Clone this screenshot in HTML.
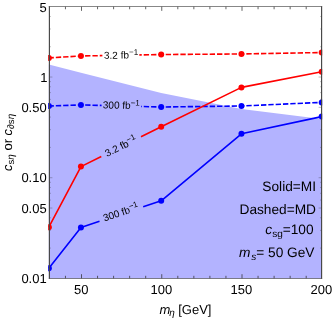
<!DOCTYPE html>
<html><head><meta charset="utf-8">
<style>
html,body{margin:0;padding:0;background:#fff;}
body{width:332px;height:318px;overflow:hidden;}
svg{display:block;will-change:transform;}
text{font-family:"Liberation Sans",sans-serif;fill:#000;text-rendering:geometricPrecision;}
.i{font-style:italic;}
</style></head><body>
<svg width="332" height="318" viewBox="0 0 332 318">
<defs><clipPath id="cp"><rect x="48.15" y="6.15" width="274.05" height="272.75"/></clipPath>
<clipPath id="cr"><rect x="48.15" y="0" width="54.25" height="318"/><rect x="139.3" y="0" width="182.9" height="318"/></clipPath>
<clipPath id="cb"><rect x="48.15" y="0" width="53.45" height="318"/><rect x="141" y="0" width="181.2" height="318"/></clipPath></defs>
<rect width="332" height="318" fill="#fff"/>
<path d="M48.85,64.5 L80.95,72.7 L161.2,93.1 L241.45,109 L321.7,119.1 L321.7,278.4 L48.85,278.4 Z" fill="#b3b3ff"/>
<g stroke="#303030" stroke-width="0.75" fill="none">
<line x1="65.45" y1="6.65" x2="65.45" y2="9.25"/>
<line x1="65.45" y1="278.4" x2="65.45" y2="275.8"/>
<line x1="81.5" y1="6.65" x2="81.5" y2="10.85"/>
<line x1="81.5" y1="278.4" x2="81.5" y2="274.2"/>
<line x1="97.55" y1="6.65" x2="97.55" y2="9.25"/>
<line x1="97.55" y1="278.4" x2="97.55" y2="275.8"/>
<line x1="113.6" y1="6.65" x2="113.6" y2="9.25"/>
<line x1="113.6" y1="278.4" x2="113.6" y2="275.8"/>
<line x1="129.65" y1="6.65" x2="129.65" y2="9.25"/>
<line x1="129.65" y1="278.4" x2="129.65" y2="275.8"/>
<line x1="145.7" y1="6.65" x2="145.7" y2="9.25"/>
<line x1="145.7" y1="278.4" x2="145.7" y2="275.8"/>
<line x1="161.75" y1="6.65" x2="161.75" y2="10.85"/>
<line x1="161.75" y1="278.4" x2="161.75" y2="274.2"/>
<line x1="177.8" y1="6.65" x2="177.8" y2="9.25"/>
<line x1="177.8" y1="278.4" x2="177.8" y2="275.8"/>
<line x1="193.85" y1="6.65" x2="193.85" y2="9.25"/>
<line x1="193.85" y1="278.4" x2="193.85" y2="275.8"/>
<line x1="209.9" y1="6.65" x2="209.9" y2="9.25"/>
<line x1="209.9" y1="278.4" x2="209.9" y2="275.8"/>
<line x1="225.95" y1="6.65" x2="225.95" y2="9.25"/>
<line x1="225.95" y1="278.4" x2="225.95" y2="275.8"/>
<line x1="242" y1="6.65" x2="242" y2="10.85"/>
<line x1="242" y1="278.4" x2="242" y2="274.2"/>
<line x1="258.05" y1="6.65" x2="258.05" y2="9.25"/>
<line x1="258.05" y1="278.4" x2="258.05" y2="275.8"/>
<line x1="274.1" y1="6.65" x2="274.1" y2="9.25"/>
<line x1="274.1" y1="278.4" x2="274.1" y2="275.8"/>
<line x1="290.15" y1="6.65" x2="290.15" y2="9.25"/>
<line x1="290.15" y1="278.4" x2="290.15" y2="275.8"/>
<line x1="306.2" y1="6.65" x2="306.2" y2="9.25"/>
<line x1="306.2" y1="278.4" x2="306.2" y2="275.8"/>
</g>
<g stroke="#303030" stroke-width="0.45" fill="none" opacity="0.7">
<line x1="49.4" y1="248.09" x2="50.9" y2="248.09"/>
<line x1="321.6" y1="248.09" x2="320.1" y2="248.09"/>
<line x1="49.4" y1="230.36" x2="50.9" y2="230.36"/>
<line x1="321.6" y1="230.36" x2="320.1" y2="230.36"/>
<line x1="49.4" y1="217.78" x2="50.9" y2="217.78"/>
<line x1="321.6" y1="217.78" x2="320.1" y2="217.78"/>
<line x1="49.4" y1="208.02" x2="52.4" y2="208.02"/>
<line x1="321.6" y1="208.02" x2="318.6" y2="208.02"/>
<line x1="49.4" y1="200.05" x2="50.9" y2="200.05"/>
<line x1="321.6" y1="200.05" x2="320.1" y2="200.05"/>
<line x1="49.4" y1="193.31" x2="50.9" y2="193.31"/>
<line x1="321.6" y1="193.31" x2="320.1" y2="193.31"/>
<line x1="49.4" y1="187.47" x2="50.9" y2="187.47"/>
<line x1="321.6" y1="187.47" x2="320.1" y2="187.47"/>
<line x1="49.4" y1="182.32" x2="50.9" y2="182.32"/>
<line x1="321.6" y1="182.32" x2="320.1" y2="182.32"/>
<line x1="49.4" y1="177.71" x2="52.4" y2="177.71"/>
<line x1="321.6" y1="177.71" x2="318.6" y2="177.71"/>
<line x1="49.4" y1="147.4" x2="50.9" y2="147.4"/>
<line x1="321.6" y1="147.4" x2="320.1" y2="147.4"/>
<line x1="49.4" y1="129.67" x2="50.9" y2="129.67"/>
<line x1="321.6" y1="129.67" x2="320.1" y2="129.67"/>
<line x1="49.4" y1="117.09" x2="50.9" y2="117.09"/>
<line x1="321.6" y1="117.09" x2="320.1" y2="117.09"/>
<line x1="49.4" y1="107.34" x2="52.4" y2="107.34"/>
<line x1="321.6" y1="107.34" x2="318.6" y2="107.34"/>
<line x1="49.4" y1="99.36" x2="50.9" y2="99.36"/>
<line x1="321.6" y1="99.36" x2="320.1" y2="99.36"/>
<line x1="49.4" y1="92.62" x2="50.9" y2="92.62"/>
<line x1="321.6" y1="92.62" x2="320.1" y2="92.62"/>
<line x1="49.4" y1="86.78" x2="50.9" y2="86.78"/>
<line x1="321.6" y1="86.78" x2="320.1" y2="86.78"/>
<line x1="49.4" y1="81.63" x2="50.9" y2="81.63"/>
<line x1="321.6" y1="81.63" x2="320.1" y2="81.63"/>
<line x1="49.4" y1="77.03" x2="52.4" y2="77.03"/>
<line x1="321.6" y1="77.03" x2="318.6" y2="77.03"/>
<line x1="49.4" y1="46.72" x2="50.9" y2="46.72"/>
<line x1="321.6" y1="46.72" x2="320.1" y2="46.72"/>
<line x1="49.4" y1="28.99" x2="50.9" y2="28.99"/>
<line x1="321.6" y1="28.99" x2="320.1" y2="28.99"/>
<line x1="49.4" y1="16.41" x2="50.9" y2="16.41"/>
<line x1="321.6" y1="16.41" x2="320.1" y2="16.41"/>
</g>
<g clip-path="url(#cp)">
<g fill="none" stroke-width="1.6" stroke-linejoin="round">
<path d="M48.85,57.9 L80.95,56 L161.2,54.5 L241.45,54 L321.7,52.5" stroke="#f00" stroke-dasharray="5.35 1.98" stroke-dashoffset="0.35" clip-path="url(#cr)"/>
<path d="M48.85,106 L80.95,104.9 L161.2,107 L241.45,106 L321.7,102.4" stroke="#00f" stroke-dasharray="5.35 1.98" stroke-dashoffset="0.35" clip-path="url(#cb)"/>
<path d="M48.85,227.2 L80.95,166.6 L101.3,156.51 M141,136.82 L161.2,126.8 L241.45,87.4 L321.7,71.7" stroke="#f00"/>
<path d="M48.85,268.2 L80.95,227.5 L99.5,221.33 M143.2,206.79 L161.2,200.8 L241.45,133.8 L321.7,116.6" stroke="#00f"/>
</g>
<g fill="#f00"><circle cx="48.85" cy="57.9" r="3"/><circle cx="80.95" cy="56" r="3"/><circle cx="161.2" cy="54.5" r="3"/><circle cx="241.45" cy="54" r="3"/><circle cx="321.7" cy="52.5" r="3"/></g><g fill="#f00"><circle cx="48.85" cy="227.2" r="3"/><circle cx="80.95" cy="166.6" r="3"/><circle cx="161.2" cy="126.8" r="3"/><circle cx="241.45" cy="87.4" r="3"/><circle cx="321.7" cy="71.7" r="3"/></g><g fill="#00f"><circle cx="48.85" cy="106" r="3"/><circle cx="80.95" cy="104.9" r="3"/><circle cx="161.2" cy="107" r="3"/><circle cx="241.45" cy="106" r="3"/><circle cx="321.7" cy="102.4" r="3"/></g><g fill="#00f"><circle cx="48.85" cy="268.2" r="3"/><circle cx="80.95" cy="227.5" r="3"/><circle cx="161.2" cy="200.8" r="3"/><circle cx="241.45" cy="133.8" r="3"/><circle cx="321.7" cy="116.6" r="3"/></g>
</g>
<g stroke="#454545" stroke-width="1.15" fill="none">
<line x1="49.4" y1="6.2" x2="49.4" y2="278.85"/>
<line x1="321.6" y1="6.2" x2="321.6" y2="278.85"/>
<line x1="48.85" y1="6.5" x2="322.15" y2="6.5" stroke-width="0.65"/>
<line x1="48.85" y1="278.5" x2="322.15" y2="278.5" stroke-width="0.65"/>
</g>
<g id="alltext">
<g font-size="13" text-anchor="end">
<text x="46.7" y="11.65">5</text>
<text x="47.5" y="81.53">1</text>
<text x="46.7" y="111.84">0.50</text>
<text x="46.7" y="182.21">0.10</text>
<text x="46.7" y="212.52">0.05</text>
<text x="46.7" y="282.9">0.01</text>
</g>
<g font-size="13" text-anchor="middle">
<text x="81.3" y="293.7">50</text>
<text x="161.3" y="293.7">100</text>
<text x="241.3" y="293.7">150</text>
<text x="321.4" y="293.7">200</text>
</g>
<text y="314.2" font-size="13"><tspan class="i" x="159.6">m</tspan><tspan class="i" font-size="10" x="169.2" dy="1.6">η</tspan><tspan x="178.2" dy="-1.6">[GeV]</tspan></text>
<text transform="translate(11.6,171) rotate(-90)" font-size="13"><tspan class="i">c</tspan><tspan font-size="9.5" dy="2.5">s<tspan class="i" font-size="10">η</tspan></tspan><tspan dy="-2.5"> or </tspan><tspan class="i">c</tspan><tspan font-size="9.5" dy="2.5"><tspan class="i">∂</tspan>s<tspan class="i" font-size="10" dx="0.3">η</tspan></tspan></text>
<text transform="translate(104,58.8) rotate(-0.9)" font-size="10">3.2 fb<tspan font-size="8" dy="-3.6">−1</tspan></text>
<text transform="translate(102.8,108.3) rotate(1.4)" font-size="10">300 fb<tspan font-size="8" dy="-3.6">−1</tspan></text>
<text transform="translate(120.7,146.3) rotate(-26.3)" font-size="10" text-anchor="middle"><tspan dy="3.5">3.2 fb</tspan><tspan font-size="8" dy="-3.6">−1</tspan></text>
<text transform="translate(120.8,212.4) rotate(-18.6)" font-size="10" text-anchor="middle"><tspan dy="3.5">300 fb</tspan><tspan font-size="8" dy="-3.6">−1</tspan></text>
<g font-size="13.7" text-anchor="end">
<text x="316" y="191.4">Solid=MI</text>
<text x="316" y="213.8">Dashed=MD</text>
<text x="313.6" y="233.8"><tspan class="i">c</tspan><tspan font-size="10" dy="3">sg</tspan><tspan dy="-3">=100</tspan></text>
<text x="315.5" y="256.5"><tspan class="i" dx="-1">m</tspan><tspan class="i" font-size="10" dy="3" dx="1">s</tspan><tspan dy="-3">= 50 GeV</tspan></text>
</g>
</g>
</svg>
</body></html>
